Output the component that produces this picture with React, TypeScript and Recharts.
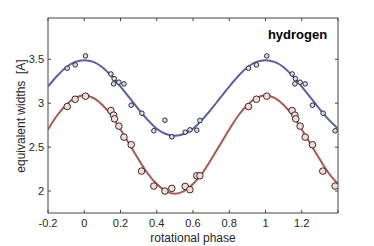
import React from 'react';
import { ComposedChart, Line, Scatter, XAxis, YAxis, ReferenceArea } from 'recharts';

// fitted curves, every 0.05 in phase
const curvePhase = [
  -0.2, -0.15, -0.1, -0.05, 0, 0.05, 0.1, 0.15, 0.2, 0.25, 0.3, 0.35, 0.4, 0.45, 0.5, 0.55, 0.6,
  0.65, 0.7, 0.75, 0.8, 0.85, 0.9, 0.95, 1.0, 1.05, 1.1, 1.15, 1.2, 1.25, 1.3, 1.35, 1.4,
];
const blueCurve = [
  3.19, 3.31, 3.41, 3.47, 3.49, 3.47, 3.41, 3.31, 3.19, 3.06, 2.93, 2.81, 2.71, 2.65, 2.63, 2.65, 2.71,
  2.81, 2.93, 3.06, 3.19, 3.31, 3.41, 3.47, 3.49, 3.47, 3.41, 3.31, 3.19, 3.06, 2.93, 2.81, 2.71,
];
const redCurve = [
  2.7, 2.86, 2.98, 3.06, 3.09, 3.06, 2.98, 2.86, 2.7, 2.53, 2.36, 2.2, 2.08, 2.0, 1.97, 2.0, 2.08,
  2.2, 2.36, 2.53, 2.7, 2.86, 2.98, 3.06, 3.09, 3.06, 2.98, 2.86, 2.7, 2.53, 2.36, 2.2, 2.08,
];

// observations (small circles, upper set)
const bluePhase = [
  -0.094, -0.05, 0.007, 0.147, 0.165, 0.162, 0.191, 0.219, 0.259, 0.318, 0.384, 0.445, 0.483, 0.557,
  0.583, 0.621, 0.638, 0.906, 0.95, 1.007, 1.147, 1.165, 1.162, 1.191, 1.219, 1.259, 1.318, 1.384,
];
const blueValue = [
  3.398, 3.436, 3.538, 3.333, 3.28, 3.22, 3.239, 3.22, 2.977, 2.886, 2.686, 2.807, 2.617, 2.67,
  2.697, 2.693, 2.803, 3.398, 3.436, 3.538, 3.333, 3.28, 3.22, 3.239, 3.22, 2.977, 2.886, 2.686,
];

// observations (large circles, lower set)
const redPhase = [
  -0.094, -0.05, 0.007, 0.147, 0.162, 0.167, 0.191, 0.219, 0.259, 0.316, 0.384, 0.445, 0.483, 0.557,
  0.583, 0.621, 0.638, 0.906, 0.95, 1.007, 1.147, 1.162, 1.167, 1.191, 1.219, 1.259, 1.316, 1.384,
];
const redValue = [
  2.962, 3.045, 3.08, 2.917, 2.864, 2.822, 2.739, 2.614, 2.527, 2.227, 2.057, 2.0, 2.03, 2.053,
  2.015, 2.174, 2.174, 2.962, 3.045, 3.08, 2.917, 2.864, 2.822, 2.739, 2.614, 2.527, 2.227, 2.057,
];

const xTicks = [-0.2, 0, 0.2, 0.4, 0.6, 0.8, 1, 1.2, 1.4];
const yTicks = [2, 2.5, 3, 3.5];

const W = 374;
const H = 246;
const LEFT = 48;
const RIGHT = 338;
const TOP = 18;
const BOTTOM = 213;
const FONT = '"Liberation Sans", Arial, sans-serif';
const AXIS = '#444';
const TEXT = '#262626';

const zip = (xs: number[], ys: number[]) => xs.map((x, i) => ({ x, y: ys[i] }));
const blueLine = zip(curvePhase, blueCurve);
const redLine = zip(curvePhase, redCurve);
const bluePts = zip(bluePhase, blueValue);
const redPts = zip(redPhase, redValue);

const XTick = (props: any) => {
  const c = props.x;
  const v = props.payload.value;
  return (
    <g>
      <line x1={c} x2={c} y1={BOTTOM} y2={BOTTOM - 3} stroke={AXIS} />
      <line x1={c} x2={c} y1={TOP} y2={TOP + 3} stroke={AXIS} />
      {v < 1.3 && (
        <text x={c} y={227} textAnchor="middle" fontSize={11} fill={TEXT} fontFamily={FONT}>
          {String(v)}
        </text>
      )}
    </g>
  );
};

const YTick = (props: any) => {
  const c = props.y;
  return (
    <g>
      <line x1={LEFT} x2={LEFT + 3} y1={c} y2={c} stroke={AXIS} />
      <line x1={RIGHT} x2={RIGHT - 3} y1={c} y2={c} stroke={AXIS} />
      <text x={44} y={c + 4} textAnchor="end" fontSize={11} fill={TEXT} fontFamily={FONT}>
        {String(props.payload.value)}
      </text>
    </g>
  );
};

const dot = (r: number, fill: string) => (p: any) => (
  <circle cx={p.cx} cy={p.cy} r={r} fill={fill} stroke="#1a1a1a" strokeWidth={0.9} />
);

export default function App() {
  return (
    <div style={{ position: 'absolute', left: 0, top: 0, width: W, height: H, background: '#fff' }}>
      <ComposedChart
        width={W}
        height={H}
        margin={{ top: TOP, right: W - RIGHT, bottom: H - BOTTOM - 20, left: LEFT - 20 }}
      >
        <XAxis
          type="number"
          dataKey="x"
          domain={[-0.2, 1.4]}
          ticks={xTicks}
          interval={0}
          allowDataOverflow
          height={20}
          axisLine={false}
          tickLine={false}
          tick={(p: any) => <XTick {...p} />}
        />
        <YAxis
          type="number"
          dataKey="y"
          domain={[1.75, 3.97]}
          ticks={yTicks}
          interval={0}
          allowDataOverflow
          width={20}
          axisLine={false}
          tickLine={false}
          tick={(p: any) => <YTick {...p} />}
        />
        <ReferenceArea x1={-0.2} x2={1.4} y1={1.75} y2={3.97} fill="none" stroke={AXIS} strokeWidth={1} />
        <Line data={blueLine} dataKey="y" type="monotone" stroke="#5b5cab" strokeWidth={2} dot={false} isAnimationActive={false} />
        <Line data={redLine} dataKey="y" type="monotone" stroke="#a8564f" strokeWidth={2} dot={false} isAnimationActive={false} />
        <Scatter data={bluePts} dataKey="y" shape={dot(2.3, '#d9d9f2')} isAnimationActive={false} />
        <Scatter data={redPts} dataKey="y" shape={dot(3.3, '#f9d9d6')} isAnimationActive={false} />
      </ComposedChart>
      <svg width={W} height={H} style={{ position: 'absolute', left: 0, top: 0, pointerEvents: 'none' }}>
        <text x={297.5} y={39} textAnchor="middle" fontSize={13} fontWeight="bold" fill="#000" fontFamily={FONT}>
          hydrogen
        </text>
        <text x={193} y={242} textAnchor="middle" fontSize={12} fill={TEXT} fontFamily={FONT}>
          rotational phase
        </text>
        <text
          x={25}
          y={116}
          textAnchor="middle"
          fontSize={12}
          fill={TEXT}
          fontFamily={FONT}
          transform="rotate(-90 25 116)"
          style={{ whiteSpace: 'pre' }}
        >
          {'equivalent widths  [A]'}
        </text>
      </svg>
    </div>
  );
}
